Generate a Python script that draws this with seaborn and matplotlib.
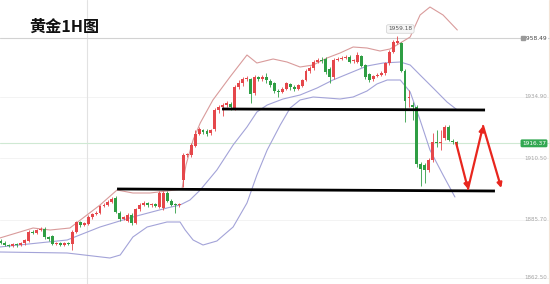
import matplotlib
matplotlib.use("Agg")
import matplotlib.pyplot as plt
import seaborn as sns
import numpy as np
import pandas as pd

# ---------------- data ----------------
title = "黄金1H图"
opens = [1877.43, 1876.63, 1875.70, 1875.30, 1875.97, 1875.57, 1876.37, 1877.43, 1881.03, 1880.63,
         1881.70, 1882.23, 1878.77, 1879.30, 1876.10, 1876.37, 1875.70, 1876.37, 1876.10, 1880.90,
         1884.90, 1883.83, 1884.10, 1886.77, 1888.10, 1888.63, 1891.30, 1891.83, 1893.03, 1894.63,
         1888.63, 1886.23, 1885.43, 1887.70, 1884.63, 1889.97, 1891.83, 1892.37, 1891.57, 1892.10,
         1891.03, 1890.37, 1896.63, 1893.43, 1891.83, 1891.57, 1901.70, 1911.57, 1911.57, 1915.30,
         1920.10, 1921.70, 1921.43, 1920.37, 1921.97, 1929.70, 1930.77, 1931.57, 1932.10, 1930.23,
         1939.03, 1940.37, 1941.97, 1941.97, 1936.37, 1942.77, 1941.97, 1942.77, 1941.43, 1940.37,
         1937.43, 1936.90, 1938.23, 1940.10, 1938.77, 1938.23, 1939.30, 1941.70, 1945.17, 1946.37,
         1948.90, 1949.70, 1950.23, 1946.23, 1942.77, 1949.70, 1950.23, 1950.50, 1951.03, 1949.17,
         1948.90, 1951.30, 1947.57, 1944.10, 1941.97, 1943.30, 1943.83, 1944.37, 1948.37, 1952.90,
         1956.63, 1956.37, 1945.43, 1934.37, 1931.70, 1931.03, 1908.10, 1907.70, 1905.70, 1909.70,
         1916.90, 1916.50, 1918.50, 1922.90, 1917.17, 1916.77]
closes = [1876.63, 1875.70, 1875.30, 1875.97, 1875.57, 1876.37, 1877.70, 1881.03, 1880.63, 1881.70,
          1882.23, 1878.77, 1877.97, 1876.10, 1876.37, 1875.70, 1876.37, 1876.10, 1880.90, 1884.90,
          1883.83, 1884.37, 1886.77, 1888.10, 1888.63, 1891.30, 1891.83, 1893.03, 1894.23, 1889.03,
          1886.23, 1886.77, 1887.70, 1884.63, 1889.97, 1891.83, 1892.37, 1891.57, 1892.10, 1891.43,
          1896.37, 1896.63, 1893.43, 1891.83, 1891.57, 1891.83, 1911.57, 1911.83, 1915.57, 1920.10,
          1921.97, 1920.90, 1920.10, 1921.70, 1929.70, 1930.77, 1931.57, 1932.37, 1930.77, 1939.03,
          1940.63, 1941.97, 1942.37, 1936.10, 1943.03, 1941.97, 1942.77, 1941.70, 1939.83, 1937.43,
          1936.90, 1938.23, 1940.37, 1938.77, 1938.23, 1939.57, 1941.70, 1945.17, 1946.50, 1948.90,
          1949.70, 1949.43, 1944.90, 1942.77, 1949.70, 1950.23, 1950.50, 1951.03, 1948.90, 1949.70,
          1951.83, 1947.30, 1943.03, 1941.70, 1943.30, 1943.83, 1944.63, 1948.37, 1952.90, 1956.90,
          1957.17, 1945.43, 1933.17, 1935.03, 1930.77, 1908.10, 1906.23, 1905.70, 1909.70, 1916.90,
          1916.50, 1916.90, 1922.90, 1917.70, 1916.77, 1916.37]
highs = [1877.97, 1877.17, 1876.23, 1876.37, 1876.63, 1876.90, 1878.23, 1881.70, 1881.70, 1882.23,
         1883.03, 1882.77, 1879.30, 1879.83, 1876.90, 1876.77, 1876.90, 1876.77, 1881.70, 1885.43,
         1885.43, 1884.90, 1887.57, 1888.63, 1889.17, 1891.83, 1892.37, 1893.70, 1895.03, 1895.30,
         1889.17, 1887.30, 1888.37, 1888.37, 1890.50, 1892.63, 1893.17, 1892.90, 1892.63, 1892.63,
         1897.17, 1897.17, 1897.17, 1893.97, 1892.37, 1892.37, 1912.37, 1912.63, 1916.37, 1921.70,
         1922.77, 1922.23, 1921.97, 1922.23, 1930.50, 1931.57, 1932.37, 1933.17, 1932.90, 1939.83,
         1941.70, 1943.03, 1943.30, 1942.50, 1943.83, 1943.30, 1943.57, 1944.63, 1941.97, 1940.90,
         1938.23, 1938.77, 1940.90, 1940.63, 1939.57, 1940.10, 1942.23, 1945.97, 1947.30, 1949.70,
         1950.50, 1951.03, 1950.77, 1947.03, 1950.50, 1951.03, 1951.30, 1951.83, 1951.57, 1950.23,
         1952.90, 1951.83, 1948.10, 1944.63, 1943.83, 1944.37, 1945.43, 1948.90, 1953.70, 1957.70,
         1959.18, 1956.90, 1945.97, 1937.70, 1933.03, 1931.57, 1908.90, 1908.37, 1910.50, 1920.37,
         1921.70, 1921.70, 1923.70, 1923.57, 1917.97, 1917.43]
lows = [1876.10, 1875.30, 1874.77, 1874.90, 1875.03, 1875.17, 1875.83, 1876.90, 1880.10, 1880.23,
        1881.17, 1878.23, 1877.43, 1875.57, 1875.70, 1875.30, 1875.30, 1875.57, 1873.70, 1880.37,
        1883.03, 1883.30, 1883.57, 1886.23, 1887.57, 1888.10, 1890.77, 1891.30, 1892.63, 1888.37,
        1885.43, 1885.70, 1884.90, 1883.83, 1884.10, 1889.43, 1891.30, 1891.03, 1891.03, 1890.77,
        1890.50, 1889.70, 1892.90, 1891.30, 1888.37, 1891.03, 1899.03, 1910.77, 1911.03, 1914.77,
        1919.57, 1920.10, 1919.30, 1919.83, 1921.43, 1928.37, 1927.30, 1930.77, 1929.70, 1929.70,
        1938.23, 1939.30, 1941.43, 1932.37, 1935.57, 1941.17, 1941.43, 1940.37, 1939.03, 1936.63,
        1935.03, 1936.37, 1937.70, 1937.70, 1937.43, 1937.70, 1938.77, 1941.17, 1944.63, 1945.70,
        1948.37, 1948.63, 1944.10, 1940.37, 1942.23, 1949.17, 1949.70, 1949.97, 1948.37, 1948.63,
        1948.37, 1946.77, 1942.23, 1940.90, 1941.43, 1942.77, 1943.30, 1943.83, 1947.83, 1952.37,
        1956.10, 1944.90, 1925.03, 1931.03, 1925.70, 1907.03, 1899.30, 1900.37, 1904.90, 1908.90,
        1915.03, 1913.70, 1917.70, 1917.17, 1916.10, 1915.83]

# Bollinger bands (candle index, price)
upper_x = [-0.3, 8.1, 12.4, 17.4, 25.0, 29.3, 33.3, 37.6, 41.9, 45.7, 46.7, 48.5, 50.3, 53.5, 57.8,
           62.1, 64.6, 68.7, 72.2, 75.5, 78.8, 82.3, 85.6, 88.9, 92.4, 95.7, 98.2, 100.8, 103.3,
           105.8, 108.3, 111.6, 115.2]
upper_y = [1878.5, 1882.5, 1881.7, 1882.5, 1891.7, 1897.7, 1896.5, 1896.5, 1897.3, 1898.1, 1907.7,
           1917.7, 1924.5, 1933.7, 1942.9, 1951.7, 1948.5, 1950.1, 1948.9, 1946.9, 1947.7, 1950.5,
           1952.5, 1954.9, 1954.5, 1953.3, 1954.1, 1956.5, 1958.9, 1967.7, 1970.9, 1967.7, 1961.7]
mid_x = [-0.3, 16.7, 25.0, 33.3, 41.9, 45.2, 47.7, 50.3, 54.5, 58.6, 62.1, 64.6, 67.2, 71.2, 75.5,
         79.8, 83.8, 88.1, 92.4, 96.5, 100.8, 103.3, 105.8, 109.1, 112.6, 115.2]
mid_y = [1874.9, 1877.7, 1882.9, 1886.9, 1890.5, 1891.7, 1893.7, 1897.7, 1905.7, 1915.7, 1922.9,
         1928.9, 1931.7, 1934.1, 1935.7, 1938.5, 1941.7, 1944.5, 1947.3, 1948.5, 1948.9, 1947.7,
         1943.7, 1938.5, 1932.9, 1929.7]
lower_x = [-0.3, 16.7, 27.5, 30.1, 33.3, 36.9, 41.9, 45.2, 46.5, 48.5, 51.0, 54.5, 58.6, 62.1, 64.6,
           67.2, 70.5, 73.0, 75.5, 78.8, 82.3, 85.6, 88.9, 92.4, 94.9, 97.5, 100.8, 103.3, 105.8,
           108.3, 111.6, 114.6]
lower_y = [1872.9, 1872.5, 1870.5, 1871.7, 1878.9, 1882.9, 1884.9, 1884.9, 1881.7, 1877.7, 1875.7,
           1877.3, 1882.9, 1892.5, 1903.7, 1913.7, 1923.7, 1930.5, 1933.7, 1934.9, 1934.5, 1934.1,
           1934.9, 1937.3, 1940.1, 1941.7, 1941.7, 1936.9, 1925.7, 1913.7, 1903.7, 1894.9]

# drawn support / resistance lines (candle index, price)
res_x = [55.8, 122.2]
res_y = [1930.1, 1929.7]
sup_x = [29.3, 124.7]
sup_y = [1898.1, 1897.3]
# red forecast zig-zag
zig_x = [114.9, 117.9, 121.7, 126.3]
zig_y = [1916.5, 1898.1, 1923.3, 1898.5]

peak_label = "1959.18"
line_price = 1958.49
axis_prices = [1934.90, 1910.50, 1885.70, 1862.50]

# ---------------- plotting ----------------
sns.set_theme(style="white")
plt.rcParams['font.family'] = ['Noto Sans CJK SC', 'DejaVu Sans']

RED = "#e5474b"
GREEN = "#2f9e44"

fig = plt.figure(figsize=(5.5, 2.84), dpi=100)
ax = fig.add_axes([0, 0, 1, 1])
ax.set_xlim(-0.25, 138.6)
ax.set_ylim(1860.1, 1973.7)
ax.axis("off")

# faint grid / reference lines
for p in axis_prices:
    ax.axhline(p, color="#f1f1f1", lw=0.6, zorder=0)
ax.axhline(line_price, color="#d2d2d2", lw=0.8, zorder=1)
ax.axhline(closes[-1], color="#cfe9d3", lw=0.8, zorder=1)
ax.axvline(21.7, color="#e2e2e2", lw=0.8, zorder=0)

# Bollinger bands
bands = pd.concat([
    pd.DataFrame({"x": upper_x, "y": upper_y, "band": "upper"}),
    pd.DataFrame({"x": mid_x, "y": mid_y, "band": "mid"}),
    pd.DataFrame({"x": lower_x, "y": lower_y, "band": "lower"}),
])
sns.lineplot(data=bands, x="x", y="y", hue="band", sort=False, estimator=None,
             palette={"upper": "#d99b9b", "mid": "#a3a3d8", "lower": "#a3a3d8"},
             lw=0.8, legend=False, ax=ax, zorder=2)

# candles
df = pd.DataFrame({"o": opens, "c": closes, "h": highs, "l": lows})
df["i"] = np.arange(len(df))
df["col"] = np.where(df["c"] >= df["o"], RED, GREEN)
ax.vlines(df["i"], df["l"], df["h"], colors=df["col"], lw=0.6, zorder=3)
body = (df["c"] - df["o"]).abs().clip(lower=0.35)
ax.bar(df["i"], body, bottom=np.minimum(df["o"], df["c"]), width=0.74,
       color=df["col"], edgecolor="none", zorder=4)

# support / resistance
ax.plot(res_x, res_y, color="black", lw=2.0, zorder=5, solid_capstyle="butt")
ax.plot(sup_x, sup_y, color="black", lw=2.0, zorder=5, solid_capstyle="butt")

# red zig-zag arrows
for k in range(len(zig_x) - 1):
    ax.annotate("", xy=(zig_x[k + 1], zig_y[k + 1]), xytext=(zig_x[k], zig_y[k]),
                arrowprops=dict(arrowstyle="-|>", color="#e8261e", lw=1.6,
                                mutation_scale=7, shrinkA=0, shrinkB=0), zorder=6)

# peak label
ax.text(100.8, 1962.1, peak_label, fontsize=4.2, color="#555555", ha="center", va="center",
        family=["DejaVu Sans"],
        bbox=dict(boxstyle="round,pad=0.3", fc="#f6f6f6", ec="#cfcfcf", lw=0.5), zorder=7)

# right-hand price labels
xr = 547 / 550 * 138.85 - 0.25
ax.text(xr, line_price, f"{line_price:.2f}", fontsize=4.3, color="#444444",
        ha="right", va="center", family=["DejaVu Sans"], zorder=7,
        bbox=dict(boxstyle="square,pad=0.2", fc="white", ec="none"))
ax.plot([131.8], [line_price], marker="s", ms=2.6, color="#9a9a9a", zorder=8)
for p in axis_prices:
    ax.text(xr, p, f"{p:.2f}", fontsize=4.0, color="#a5a5a5",
            ha="right", va="center", family=["DejaVu Sans"], zorder=7)
ax.text(546 / 550 * 138.85 - 0.25, closes[-1], f"{closes[-1]:.2f}", fontsize=4.2, color="white",
        ha="right", va="center", family=["DejaVu Sans"], zorder=8,
        bbox=dict(boxstyle="round,pad=0.25", fc="#32a852", ec="none"))
ax.axvline(138.3, color="#f3e3d6", lw=0.8, zorder=0)

# title
fig.text(29 / 550, 1 - 27 / 284, title, fontsize=11.6, fontweight="bold", color="#111111",
         ha="left", va="center", family=["Noto Sans CJK SC", "DejaVu Sans"])

fig.savefig("out.png", dpi=100, facecolor="white")
